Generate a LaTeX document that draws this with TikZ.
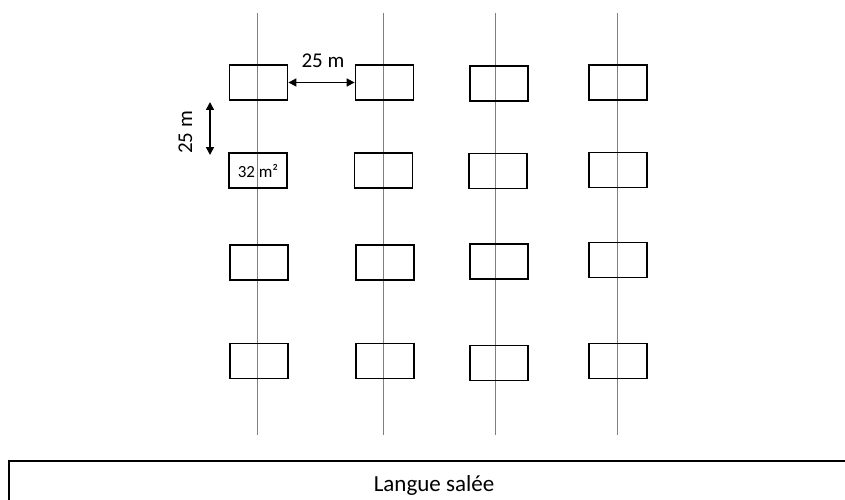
\documentclass[tikz,border=0pt]{standalone}
\usepackage{fontspec}
\setmainfont{Carlito}
\usetikzlibrary{arrows.meta}
\begin{document}
\begin{tikzpicture}[x=1pt,y=-1pt,
  plot/.style={draw=black,line width=1.8pt,minimum width=58pt,minimum height=35pt,
    inner sep=0pt,font=\fontsize{17}{19}\selectfont},
  transect/.style={draw=black!50,line width=1pt},
  dim/.style={line width=1.6pt,{Triangle[length=8pt,width=8pt]}-{Triangle[length=8pt,width=8pt]}},
  dimlabel/.style={font=\fontsize{21}{24}\selectfont,inner sep=0pt,anchor=base}]
\useasboundingbox (0,0) rectangle (845,500);

% transect lines
\foreach \n/\x in {1/257,2/383,3/495,4/617}{
  \coordinate (t\n top) at (\x,13);
  \coordinate (t\n bot) at (\x,435);
  \draw[transect] (t\n top) -- (t\n bot);
}

% sampling plots
\node[plot] (b11) at (258.5,82.5) {};
\node[plot] (b12) at (384.5,82.5) {};
\node[plot] (b13) at (499,83.5) {};
\node[plot] (b14) at (618,82.5) {};
\node[plot] (b21) at (258,170.5) {32 m²};
\node[plot] (b22) at (383.5,170.5) {};
\node[plot] (b23) at (498,171) {};
\node[plot] (b24) at (618,170) {};
\node[plot] (b31) at (259,262.5) {};
\node[plot] (b32) at (385,262.5) {};
\node[plot] (b33) at (499,261.5) {};
\node[plot] (b34) at (618,260) {};
\node[plot] (b41) at (259,361) {};
\node[plot] (b42) at (385,361) {};
\node[plot] (b43) at (499,363) {};
\node[plot] (b44) at (618,361) {};

% spacing between plots
\draw[dim] (b11.east) -- (b12.west);
\node[dimlabel] (dh) at (323,68) {25 m};
\coordinate (vtop) at (210,102);
\coordinate (vbot) at (210,155);
\draw[dim] (vtop) -- (vbot);
\node[dimlabel,rotate=90] (dv) at (192,132.5) {25 m};

% salt marsh strip
\draw[line width=1.8pt] (9,520) -- (9,461) -- (860,461);
\node[font=\fontsize{23}{27}\selectfont,inner sep=0pt,anchor=base] (sea) at (434,491) {Langue salée};
\end{tikzpicture}
\end{document}
